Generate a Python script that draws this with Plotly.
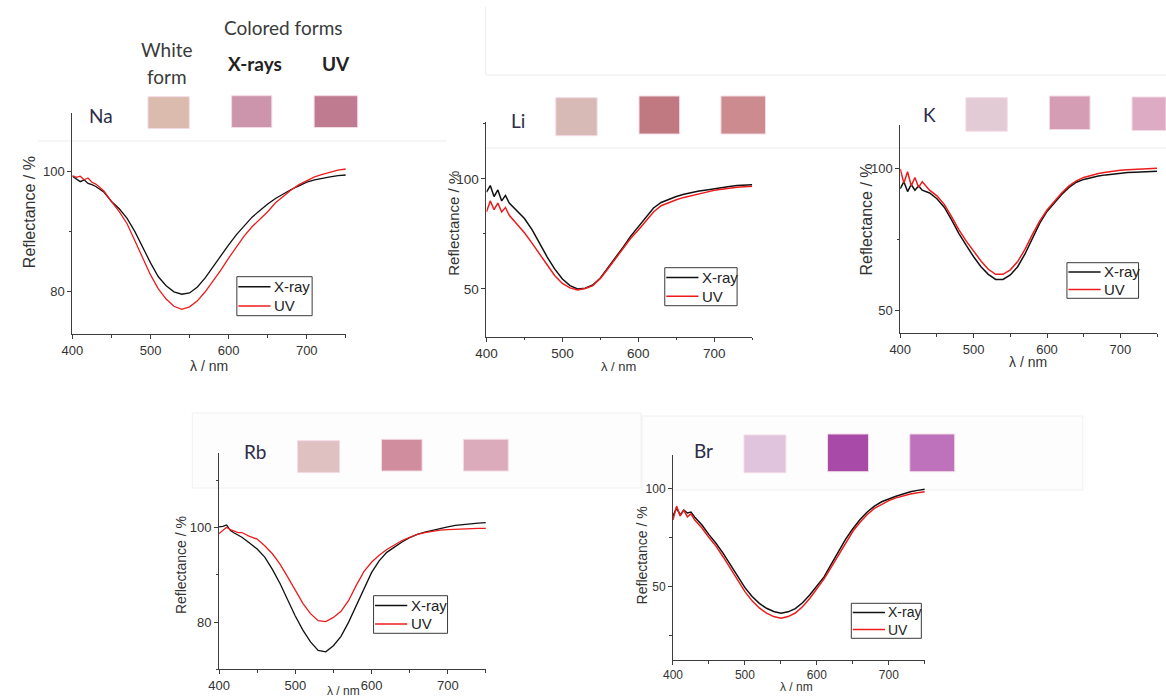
import plotly.graph_objects as go

# ---------------------------------------------------------------------------
# Diffuse reflectance spectra (λ in nm, reflectance in %)
# ---------------------------------------------------------------------------
WAVELENGTH = [400, 405, 410, 415, 420, 425, 430,
              440, 450, 460, 470, 480, 490, 500, 510, 520, 530, 540, 550,
              560, 570, 580, 590, 600, 610, 620, 630, 640, 650, 660, 670,
              680, 690, 700, 710, 720, 730, 740, 750]

NA_XRAY = [99.2, 98.8, 98.3, 98.6, 98.0, 97.8, 97.5,
           96.6, 95.0, 93.8, 92.2, 90.0, 87.3, 84.8, 82.5, 81.0, 80.0, 79.6, 79.8,
           80.8, 82.3, 84.2, 86.0, 87.8, 89.5, 91.0, 92.4, 93.5, 94.6, 95.5, 96.3,
           97.0, 97.6, 98.2, 98.6, 98.9, 99.1, 99.3, 99.4]
NA_UV = [99.3, 99.0, 99.2, 98.6, 98.9, 98.2, 97.9,
         96.8, 95.0, 93.3, 91.3, 88.5, 85.6, 82.8, 80.5, 78.8, 77.6, 77.1, 77.5,
         78.5, 80.0, 81.7, 83.6, 85.6, 87.5, 89.3, 90.8, 92.1, 93.3, 94.8, 95.9,
         96.9, 97.8, 98.5, 99.1, 99.5, 99.9, 100.2, 100.4]

LI_XRAY = [94.0, 97.0, 92.0, 95.0, 90.0, 92.5, 89.0,
           85.5, 82.0, 77.0, 70.5, 64.5, 59.0, 54.5, 51.5, 50.0, 50.3, 51.8, 55.0,
           59.5, 64.0, 69.0, 74.0, 78.3, 83.0, 86.8, 89.3, 90.8, 92.0, 93.0, 93.8,
           94.5, 95.0, 95.6, 96.2, 96.6, 97.0, 97.2, 97.4]
LI_UV = [85.0, 90.0, 86.0, 89.0, 85.0, 87.0, 83.5,
         79.5, 75.5, 70.8, 65.8, 60.5, 56.0, 52.5, 50.5, 49.5, 50.2, 51.5, 54.8,
         59.2, 63.8, 68.5, 73.0, 76.8, 81.0, 85.0, 87.8, 89.3, 90.5, 91.6, 92.5,
         93.4, 94.0, 94.8, 95.4, 95.8, 96.2, 96.5, 96.7]

K_XRAY = [93.0, 95.5, 92.0, 94.5, 92.5, 94.0, 92.5,
          91.5, 89.5, 86.5, 82.0, 77.2, 73.0, 69.0, 65.5, 62.8, 61.0, 61.0, 62.6,
          65.5, 70.0, 75.5, 80.8, 85.0, 88.2, 91.0, 93.5, 95.3, 96.3, 97.0, 97.5,
          97.9, 98.2, 98.5, 98.7, 98.8, 99.0, 99.1, 99.2]
K_UV = [100.0, 95.0, 99.0, 94.0, 97.0, 93.5, 95.5,
        92.5, 90.5, 87.5, 83.2, 78.5, 74.5, 70.8, 67.5, 64.6, 62.8, 62.8, 64.4,
        67.3, 71.6, 76.8, 81.6, 85.5, 88.5, 91.5, 94.0, 95.8, 97.0, 97.8, 98.4,
        98.8, 99.2, 99.5, 99.7, 99.8, 100.0, 100.1, 100.2]

RB_XRAY = [100.2, 100.3, 100.6, 99.4, 98.9, 98.4, 98.0,
           96.8, 95.5, 93.8, 91.2, 88.2, 84.8, 81.3, 78.3, 75.8, 74.0, 73.7, 75.0,
           77.0, 80.0, 83.5, 87.0, 90.5, 93.0, 94.8, 95.9, 97.0, 97.9, 98.6, 99.1,
           99.5, 99.9, 100.2, 100.5, 100.7, 100.9, 101.0, 101.1]
RB_UV = [98.8, 99.5, 100.1, 99.6, 99.3, 99.0, 99.0,
         98.2, 97.6, 96.2, 94.5, 92.3, 89.6, 86.7, 84.0, 81.8, 80.3, 80.1, 81.0,
         82.3, 84.6, 87.8, 90.7, 92.7, 94.2, 95.4, 96.4, 97.3, 98.0, 98.6, 99.0,
         99.3, 99.5, 99.6, 99.7, 99.8, 99.8, 99.9, 99.9]

BR_XRAY = [86.0, 90.0, 86.5, 89.0, 87.5, 88.0, 85.5,
           81.5, 76.5, 72.0, 66.8, 60.8, 55.0, 49.5, 45.0, 41.5, 39.0, 37.4, 36.5,
           37.2, 38.8, 41.8, 45.8, 50.5, 55.0, 61.5, 68.0, 74.2, 79.5, 84.2, 88.0,
           91.0, 93.2, 94.8, 96.0, 97.2, 98.3, 99.0, 99.6]
BR_UV = [84.0, 91.0, 86.0, 89.0, 85.5, 87.0, 84.0,
         80.0, 75.0, 70.5, 65.0, 59.0, 53.0, 47.5, 42.8, 39.2, 36.5, 34.8, 34.0,
         34.8, 36.6, 39.8, 44.0, 48.8, 54.0, 60.0, 66.3, 72.5, 78.2, 82.8, 86.7,
         89.8, 92.0, 93.8, 95.2, 96.3, 97.2, 97.8, 98.3]

SERIES_NAMES = ["X-ray", "UV"]
ELEMENTS = ["Na", "Li", "K", "Rb", "Br"]

# Powder colours: white form, X-ray coloured form, UV coloured form
SWATCH_COLORS = {
    "Na": ["#dbbbae", "#cc95ab", "#bf7b8f"],
    "Li": ["#d7b9b5", "#c07981", "#cc8b8e"],
    "K":  ["#e3cbd5", "#d49db3", "#ddabc3"],
    "Rb": ["#dfc1c2", "#d08d9d", "#dcabbb"],
    "Br": ["#e0c3dc", "#a84ba8", "#be72bb"],
}

HEADER_TEXT = ["Colored forms", "White", "form", "X-rays", "UV"]

# ---------------------------------------------------------------------------
# Page geometry (pixels) and styling
# ---------------------------------------------------------------------------
W, H = 1166, 698


def fx(px):
    return px / W


def fy(py):
    return 1 - py / H


LINE_BLACK = "#111111"
LINE_RED = "#ec1c1c"
SERIES_COLORS = [LINE_BLACK, LINE_RED]
AXIS_COLOR = "#3c3c3c"
TEXT_COLOR = "#333333"
LABEL_COLOR = "#2c2c48"
SANS = "Arial, Liberation Sans, sans-serif"
HEAD_FONT = "Lato, Open Sans, sans-serif"

# plot box (px), y range and ticks, font sizes, legend box, titles, swatches
PANELS = [
    dict(name="Na", left=62, right=338, top=113, bottom=334.3,
         yrange=[72.94, 109.7], dtick=20, minor=10, tick_fs=13, title_fs=16, leg_fs=15,
         legend=(228, 276.7, 304, 315.7), ytitle=(18.3, 212), xtitle=(200, 366),
         label=(91, 115), sw_x=[138.3, 222.7, 306.0], sw_w=[41.7, 40.6, 44.0],
         sw_y=[96.7, 95.7, 95.7], sw_h=31.8),
    dict(name="Li", left=480, right=748.3, top=121.7, bottom=336.7,
         yrange=[28.3, 126], dtick=50, minor=25, tick_fs=13.5, title_fs=15, leg_fs=15,
         legend=(660, 267.7, 733, 305.7), ytitle=(446.7, 223.3), xtitle=(613, 367),
         label=(512, 121), sw_x=[550, 634, 716.7], sw_w=[41.7, 41, 45],
         sw_y=[97.7, 96, 96], sw_h=38),
    dict(name="K", left=897.7, right=1157, top=125, bottom=333.3,
         yrange=[42.0, 115.5], dtick=50, minor=25, tick_fs=13, title_fs=16, leg_fs=15,
         legend=(1066, 262.7, 1138.3, 298.3), ytitle=(862.7, 220), xtitle=(1026.7, 362),
         label=(927, 114), sw_x=[964, 1048.3, 1131.7], sw_w=[41.7, 41, 40],
         sw_y=[97.7, 96, 97], sw_h=33.5),
    dict(name="Rb", left=210, right=479.4, top=453.3, bottom=669.3,
         yrange=[70.0, 115.8], dtick=20, minor=10, tick_fs=13, title_fs=14, leg_fs=15,
         legend=(366, 595.7, 440.7, 633.3), ytitle=(171.7, 565), xtitle=(336, 691),
         label=(246.7, 451.7), sw_x=[289.3, 374, 456.7], sw_w=[42.4, 41, 45.3],
         sw_y=[440.7, 439.3, 439.3], sw_h=31.7),
    dict(name="Br", left=668.3, right=922.5, top=455, bottom=660,
         yrange=[12.7, 117.0], dtick=50, minor=25, tick_fs=12, title_fs=14, leg_fs=14,
         legend=(848.3, 603.3, 919, 638.3), ytitle=(636.7, 555.7), xtitle=(792.7, 687),
         label=(699.3, 450), sw_x=[740, 824.3, 907.3], sw_w=[42.3, 41.4, 45.4],
         sw_y=[435, 434, 434], sw_h=37.7),
]

SPECTRA = {
    "Na": (NA_XRAY, NA_UV),
    "Li": (LI_XRAY, LI_UV),
    "K": (K_XRAY, K_UV),
    "Rb": (RB_XRAY, RB_UV),
    "Br": (BR_XRAY, BR_UV),
}

fig = go.Figure()
layout = dict(
    width=W, height=H,
    margin=dict(l=0, r=0, t=0, b=0),
    paper_bgcolor="white",
    plot_bgcolor="rgba(0,0,0,0)",
    showlegend=False,
)
shapes = []
annotations = []

for i, p in enumerate(PANELS, start=1):
    suffix = "" if i == 1 else str(i)
    xref, yref = "x" + suffix, "y" + suffix
    noisy = p["name"] in ("Li", "K", "Br")

    for name, values, color in zip(SERIES_NAMES, SPECTRA[p["name"]], SERIES_COLORS):
        fig.add_trace(go.Scatter(
            x=WAVELENGTH, y=values, mode="lines", name=name,
            line=dict(color=color, width=1.5 if noisy else 1.3),
            xaxis=xref, yaxis=yref,
        ))

    axis_common = dict(
        showgrid=False, zeroline=False, showline=True, mirror=False,
        linecolor=AXIS_COLOR, linewidth=1,
        ticks="outside", ticklen=4, tickwidth=1, tickcolor=AXIS_COLOR,
        tickfont=dict(family=SANS, size=p["tick_fs"], color=TEXT_COLOR),
        fixedrange=True,
    )
    layout["xaxis" + suffix] = dict(
        axis_common,
        domain=[fx(p["left"]), fx(p["right"])],
        range=[400, 750], tick0=400, dtick=100,
        minor=dict(ticks="outside", ticklen=2.5, dtick=50, tick0=400,
                   tickcolor=AXIS_COLOR, showgrid=False),
        anchor=yref,
    )
    layout["yaxis" + suffix] = dict(
        axis_common,
        domain=[fy(p["bottom"]), fy(p["top"])],
        range=p["yrange"], tick0=0, dtick=p["dtick"],
        minor=dict(ticks="outside", ticklen=2.5, dtick=p["minor"], tick0=0,
                   tickcolor=AXIS_COLOR, showgrid=False),
        anchor=xref,
    )

    # boxed key: line sample + series name on each row
    lx0, ly0, lx1, ly1 = p["legend"]
    shapes.append(dict(type="rect", xref="paper", yref="paper", layer="above",
                       x0=fx(lx0), x1=fx(lx1), y0=fy(ly1), y1=fy(ly0),
                       fillcolor="white", line=dict(color="#3a3a3a", width=1)))
    for row, (name, color) in enumerate(zip(SERIES_NAMES, SERIES_COLORS)):
        ry = ly0 + (ly1 - ly0) * (0.26 + 0.49 * row)
        shapes.append(dict(type="line", xref="paper", yref="paper", layer="above",
                           x0=fx(lx0 + 1.5), x1=fx(lx0 + 34), y0=fy(ry), y1=fy(ry),
                           line=dict(color=color, width=1.5)))
        annotations.append(dict(
            text=name, xref="paper", yref="paper", x=fx(lx0 + 35.5), y=fy(ry),
            xanchor="left", yanchor="middle", showarrow=False,
            font=dict(family=SANS, size=p["leg_fs"], color="#222222"),
        ))

    # axis titles
    annotations.append(dict(
        text="Reflectance / %", xref="paper", yref="paper",
        x=fx(p["ytitle"][0]), y=fy(p["ytitle"][1]), textangle=-90,
        xanchor="center", yanchor="middle", showarrow=False,
        font=dict(family=SANS, size=p["title_fs"], color=TEXT_COLOR),
    ))
    annotations.append(dict(
        text="λ / nm", xref="paper", yref="paper",
        x=fx(p["xtitle"][0]), y=fy(p["xtitle"][1]),
        xanchor="center", yanchor="middle", showarrow=False,
        font=dict(family=SANS, size=p["title_fs"] - 2, color=TEXT_COLOR),
    ))

    # element label and powder swatches
    annotations.append(dict(
        text=p["name"], xref="paper", yref="paper",
        x=fx(p["label"][0]), y=fy(p["label"][1]),
        xanchor="center", yanchor="middle", showarrow=False,
        font=dict(family=HEAD_FONT, size=19, color=LABEL_COLOR),
    ))
    for color, x0, w, y0 in zip(SWATCH_COLORS[p["name"]], p["sw_x"], p["sw_w"], p["sw_y"]):
        shapes.append(dict(
            type="rect", xref="paper", yref="paper", layer="above",
            x0=fx(x0), x1=fx(min(x0 + w, W)), y0=fy(y0 + p["sw_h"]), y1=fy(y0),
            fillcolor=color, line=dict(color="#f3dbe6", width=1),
        ))

# faint frames around the swatch strips
FRAME = "#ececec"
for x0, y0, x1, y1 in [(27, 141, 440, 141), (479, 7, 479, 75), (479, 75, W, 75),
                       (479, 148, W, 148)]:
    shapes.append(dict(type="line", xref="paper", yref="paper", layer="below",
                       x0=fx(x0), y0=fy(y0), x1=fx(x1), y1=fy(y1),
                       line=dict(color=FRAME, width=1)))
for x0, y0, x1, y1 in [(183, 413, 636, 488), (637, 416, 1082, 490)]:
    shapes.append(dict(type="rect", xref="paper", yref="paper", layer="below",
                       x0=fx(x0), y0=fy(y1), x1=fx(x1), y1=fy(y0),
                       fillcolor="#fdfdfd", line=dict(color="#f0f0f0", width=1)))

# column headers above the Na swatches
header_pos = [(274.3, 27.7, False), (157.3, 49.3, False), (157.3, 76, False),
              (246.7, 63.3, True), (327.7, 63.3, True)]
for text, (x, y, bold) in zip(HEADER_TEXT, header_pos):
    annotations.append(dict(
        text=f"<b>{text}</b>" if bold else text, xref="paper", yref="paper",
        x=fx(x), y=fy(y), xanchor="center", yanchor="middle", showarrow=False,
        font=dict(family=HEAD_FONT, size=19, color="#222222" if bold else "#3a3a3a"),
    ))

layout["shapes"] = shapes
layout["annotations"] = annotations
fig.update_layout(**layout)

fig.write_html("out.html", config={"displayModeBar": False})
